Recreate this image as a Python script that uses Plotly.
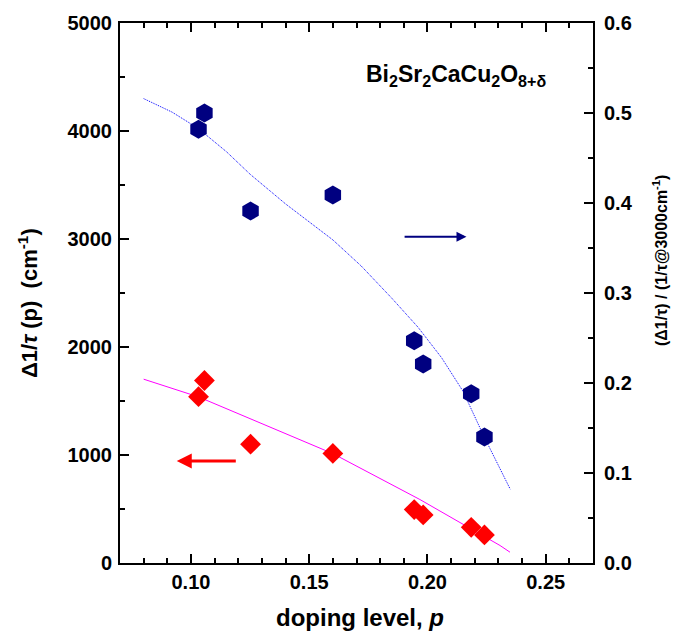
import plotly.graph_objects as go

# Data
p_points = [0.1032, 0.1057, 0.1252, 0.1600, 0.1944, 0.1982, 0.2185, 0.2241]
scatter_rate = [1540, 1690, 1100, 1015, 495, 445, 330, 260]          # left axis, cm^-1
scatter_ratio = [0.482, 0.500, 0.391, 0.409, 0.247, 0.221, 0.188, 0.140]  # right axis

fit_left_p = [0.080, 0.1033, 0.160, 0.1968, 0.2307, 0.2349]
fit_left_v = [1702, 1537, 1013, 588, 162, 100]

fit_right_p = [0.080, 0.092, 0.103, 0.115, 0.125, 0.140, 0.160, 0.172, 0.185, 0.196,
               0.206, 0.215, 0.224, 0.235]
fit_right_r = [0.516, 0.501, 0.483, 0.457, 0.432, 0.399, 0.359, 0.330, 0.294, 0.262,
               0.228, 0.191, 0.140, 0.082]

x_range = [0.07, 0.27]
y_range = [0, 5000]
y2_range = [0, 0.6]

FONT = "Liberation Sans"

fig = go.Figure()

fig.add_trace(go.Scatter(x=fit_left_p, y=fit_left_v, mode="lines",
                         line=dict(color="#ff00ff", width=1), yaxis="y",
                         showlegend=False, hoverinfo="skip"))
fig.add_trace(go.Scatter(x=fit_right_p, y=fit_right_r, mode="lines",
                         line=dict(color="#0000ff", width=1, dash="1px,1px"), yaxis="y2",
                         showlegend=False, hoverinfo="skip"))
fig.add_trace(go.Scatter(x=p_points, y=scatter_rate, mode="markers",
                         marker=dict(symbol="diamond", size=16, color="#ff0000",
                                     line=dict(width=0)),
                         yaxis="y", showlegend=False))
fig.add_trace(go.Scatter(x=p_points, y=scatter_ratio, mode="markers",
                         marker=dict(symbol="hexagon", size=19, color="#000080",
                                     line=dict(width=0)),
                         yaxis="y2", showlegend=False))

tickfont = dict(family=FONT, size=20, color="black", weight="bold")

fig.update_layout(
    width=680, height=639,
    margin=dict(l=120, r=87, t=15, b=76),
    paper_bgcolor="white", plot_bgcolor="white",
    showlegend=False,
    xaxis=dict(range=x_range, tickmode="linear", tick0=0.05, dtick=0.05,
               tickformat=".2f", ticks="inside", ticklen=9, tickwidth=2,
               tickcolor="black", showline=True, linewidth=2, linecolor="black",
               mirror="ticks", showgrid=False, zeroline=False,
               tickfont=tickfont,
               minor=dict(tickmode="linear", tick0=0.0, dtick=0.01, ticks="inside",
                          ticklen=5, tickwidth=1.5, tickcolor="black", showgrid=False)),
    yaxis=dict(range=y_range, tickmode="linear", tick0=0, dtick=1000,
               ticks="inside", ticklen=9, tickwidth=2, tickcolor="black",
               showline=True, linewidth=2, linecolor="black", ticklabelstandoff=2,
               showgrid=False, zeroline=False, tickfont=tickfont,
               minor=dict(tickmode="linear", tick0=0, dtick=500, ticks="inside",
                          ticklen=5, tickwidth=1.5, tickcolor="black", showgrid=False)),
    yaxis2=dict(range=y2_range, overlaying="y", side="right",
                tickmode="linear", tick0=0, dtick=0.1, tickformat=".1f",
                ticks="inside", ticklen=9, tickwidth=2, tickcolor="black",
                showline=True, linewidth=2, linecolor="black", ticklabelstandoff=5,
                showgrid=False, zeroline=False, tickfont=tickfont,
                minor=dict(tickmode="linear", tick0=0, dtick=0.05, ticks="inside",
                           ticklen=5, tickwidth=1.5, tickcolor="black", showgrid=False)),
)

# Axis titles as annotations for precise placement
fig.add_annotation(text="<b>doping level, <i>p</i></b>", xref="paper", yref="paper",
                   x=0.5, y=-0.1, yanchor="middle", xanchor="center", xshift=3,
                   showarrow=False, font=dict(family=FONT, size=24, color="black"))
fig.add_annotation(text="<b>Δ1/<i>τ</i> (p)  (cm<sup>-1</sup>)</b>", xref="paper", yref="paper",
                   x=0, y=0.5, xanchor="center", yanchor="middle", xshift=-92, yshift=-10,
                   textangle=-90, showarrow=False,
                   font=dict(family=FONT, size=22, color="black"))
fig.add_annotation(text="<b>(Δ1/τ) / (1/τ@3000cm<sup>-1</sup>)</b>", xref="paper", yref="paper",
                   x=1, y=0.5, xanchor="center", yanchor="middle", xshift=67, yshift=32,
                   textangle=-90, showarrow=False,
                   font=dict(family=FONT, size=16, color="black"))

# Compound label
fig.add_annotation(text="<b>Bi<sub>2</sub>Sr<sub>2</sub>CaCu<sub>2</sub>O<sub>8+δ</sub></b>",
                   xref="paper", yref="paper", x=(456 - 120.7) / 472, y=(562.7 - 68) / 547.7,
                   xanchor="center", yanchor="middle", showarrow=False,
                   font=dict(family=FONT, size=23, color="black"))

# Arrows
fig.add_annotation(x=0.2165, y=3020, ax=0.1897, ay=3020, xref="x", yref="y",
                   axref="x", ayref="y", text="", showarrow=True,
                   arrowhead=2, arrowsize=1, arrowwidth=2, arrowcolor="#000080")
fig.add_annotation(x=0.0940, y=944, ax=0.1196, ay=944, xref="x", yref="y",
                   axref="x", ayref="y", text="", showarrow=True,
                   arrowhead=2, arrowsize=1, arrowwidth=3, arrowcolor="#ff0000")

fig.write_html("out.html")
